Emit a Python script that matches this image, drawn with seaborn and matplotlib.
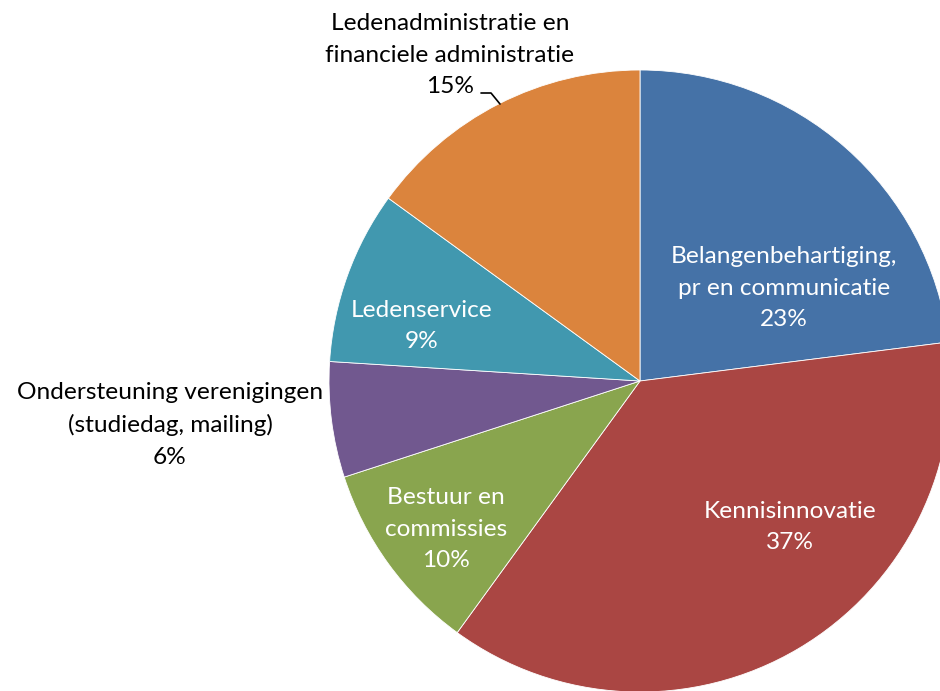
import matplotlib.pyplot as plt
import seaborn as sns

# share of time per activity (%)
categories = [
    "Belangenbehartiging,\npr en communicatie",
    "Kennisinnovatie",
    "Bestuur en\ncommissies",
    "Ondersteuning verenigingen\n(studiedag, mailing)",
    "Ledenservice",
    "Ledenadministratie en\nfinanciele administratie",
]
values = [23, 37, 10, 6, 9, 15]
colors = ["#4572A7", "#AA4643", "#89A54E", "#71588F", "#4198AF", "#DB843D"]
text_colors = ["white", "white", "white", "black", "white", "black"]

# label centres in pixel space (x from left, y from top)
label_pos = [(784, 288), (790, 527), (446, 529), (170, 425), (422, 326), (450, 55)]

W, H = 940, 691

sns.set_theme(style="white")
plt.rcParams["font.family"] = ["Lato", "DejaVu Sans"]

fig = plt.figure(figsize=(W / 100, H / 100), dpi=100)
ax = fig.add_axes([0, 0, 1, 1])
ax.axis("off")

ax.pie(values, colors=colors, startangle=90, counterclock=False,
       center=(640, H - 381), radius=311,
       wedgeprops=dict(edgecolor="white", linewidth=0.6))
ax.set_xlim(0, W)
ax.set_ylim(0, H)
ax.set_aspect("equal")

for cat, val, (x, y), tc in zip(categories, values, label_pos, text_colors):
    ax.text(x, H - y, f"{cat}\n{val}%", ha="center", va="center",
            color=tc, fontsize=17.6, linespacing=1.6)

# leader line for the top label
ax.plot([481, 491, 500], [H - 93, H - 93, H - 104], color="black", lw=1.2)

fig.savefig("out.png", dpi=100)
